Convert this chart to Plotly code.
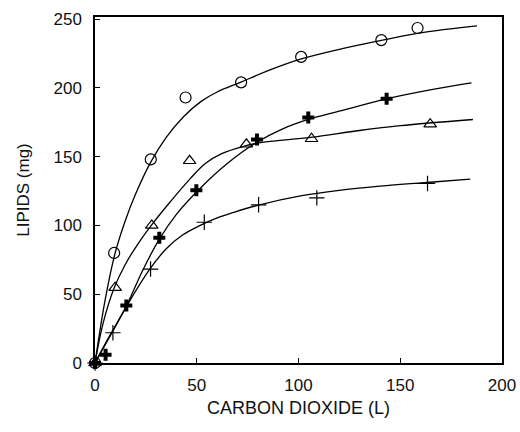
import plotly.graph_objects as go

# Measured points
circ_x = [0, 9.4, 27.4, 44.5, 71.8, 101.3, 140.7, 158.5]
circ_y = [0, 80, 148, 193, 204, 222.5, 234.7, 243.5]
tri_x = [0, 9.9, 27.9, 46.5, 74.4, 106.4, 164.7]
tri_y = [0, 54.8, 100, 147, 159, 163, 173.6]
bold_x = [0, 5.2, 15.4, 31.6, 49.8, 79.6, 104.8, 143.3]
bold_y = [0, 6.0, 41.8, 91, 125.5, 162.5, 178.5, 192]
thin_x = [0, 8.8, 27.3, 53.7, 80.4, 109.0, 163.4]
thin_y = [0, 22, 68.3, 102.3, 115, 120, 130.5]

# Fitted curves
circ_cx = [0, 5, 9.9, 15, 20, 27.4, 35, 43.5, 52, 60, 71.4, 86, 101.3, 120, 140.7, 160, 187.7]
circ_cy = [0, 46, 80, 104, 123, 146, 164, 179, 190, 197, 204, 213, 221, 228, 234.5, 240, 245]
tri_cx = [0, 4, 9.4, 15, 21.3, 28.7, 36.9, 46.8, 54.2, 62, 73, 82.9, 105.9, 130, 150, 185.7]
tri_cy = [0, 29, 54.5, 72, 87, 102, 117, 134, 145, 152, 157.5, 160.5, 164, 169, 172.5, 177]
bold_cx = [0, 5, 15.6, 23, 31.2, 40, 51.7, 65, 79.6, 92, 104.8, 120, 143.3, 166.7, 185]
bold_cy = [0, 14, 42, 66, 89, 108, 127, 145, 160.5, 170, 177, 183, 192, 199, 203.6]
thin_cx = [0, 8.7, 17, 27.1, 35, 43, 51.7, 60, 68.1, 80.9, 101, 120, 140, 163, 184.4]
thin_cy = [0, 23, 45, 68.6, 83, 93, 100, 105.5, 109.5, 115, 121.5, 125.5, 128.5, 131.2, 133.6]

x_ticks = [0, 50, 100, 150, 200]
y_ticks = [0, 50, 100, 150, 200, 250]

FONT = "Liberation Sans, Arial, sans-serif"

fig = go.Figure()
for cx, cy in [(circ_cx, circ_cy), (tri_cx, tri_cy), (bold_cx, bold_cy), (thin_cx, thin_cy)]:
    fig.add_trace(go.Scatter(x=cx, y=cy, mode="lines",
                             line=dict(color="black", width=1.3, shape="spline", smoothing=1.0),
                             showlegend=False, hoverinfo="skip", cliponaxis=False))

fig.add_trace(go.Scatter(x=circ_x, y=circ_y, mode="markers", cliponaxis=False, showlegend=False,
                         marker=dict(symbol="circle-open", size=11, color="black", line=dict(width=1.2))))
fig.add_trace(go.Scatter(x=tri_x, y=tri_y, mode="markers", cliponaxis=False, showlegend=False,
                         marker=dict(symbol="triangle-up-open", size=11, color="black", line=dict(width=1.2))))
fig.add_trace(go.Scatter(x=bold_x, y=bold_y, mode="markers", cliponaxis=False, showlegend=False,
                         marker=dict(symbol="cross", size=10, color="black", line=dict(width=0))))
fig.add_trace(go.Scatter(x=thin_x, y=thin_y, mode="markers", cliponaxis=False, showlegend=False,
                         marker=dict(symbol="cross-thin-open", size=11, color="black",
                                     line=dict(width=1.2, color="black"))))

axis_common = dict(showline=True, linecolor="black", linewidth=1.5, mirror=True, ticks="inside",
                   ticklen=5, tickcolor="black", showgrid=False, zeroline=False, automargin=False,
                   tickfont=dict(family=FONT, size=17, color="#111"))

fig.update_xaxes(range=[0, 200], tickvals=x_ticks, ticktext=[str(v) for v in x_ticks],
                 ticklabelstandoff=6,
                 title=dict(text="CARBON DIOXIDE (L)", standoff=7,
                            font=dict(family=FONT, size=18, color="#111")),
                 **axis_common)
fig.update_yaxes(range=[0, 251.5], tickvals=y_ticks, ticktext=[str(v) for v in y_ticks],
                 ticklabelstandoff=8,
                 title=dict(text="LIPIDS (mg)", standoff=20,
                            font=dict(family=FONT, size=17, color="#111")),
                 **axis_common)

fig.update_layout(width=520, height=432, margin=dict(l=95, r=18, t=17, b=69),
                  plot_bgcolor="white", paper_bgcolor="white")

fig.write_html("out.html")
